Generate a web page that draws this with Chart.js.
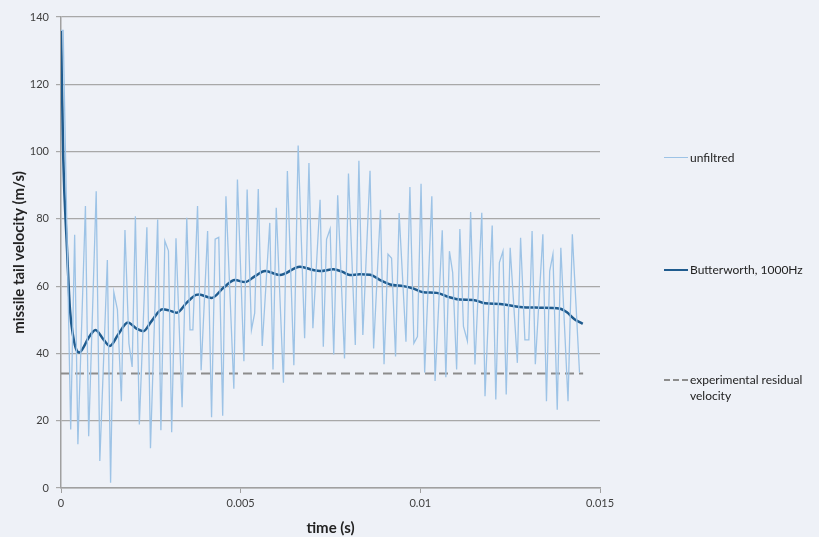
<!DOCTYPE html>
<html>
<head>
<meta charset="utf-8">
<script src="https://cdn.jsdelivr.net/npm/chart.js@4/dist/chart.umd.min.js"></script>
<style>
  body { margin: 0; background: #eef1f7; font-family: Lato, "Open Sans", sans-serif; }
  #wrap { position: relative; width: 819px; height: 537px; }
  .leg { position: absolute; left: 664px; font-size: 12px; color: #222; line-height: 16px; }
  .leg .sw { position: absolute; left: 0; width: 24px; }
  .leg span.t { position: absolute; left: 26px; white-space: nowrap; }
</style>
</head>
<body>
<div id="wrap">
  <canvas id="velChart"></canvas>
  <div class="leg" style="top:150px">
    <div class="sw" style="top:7px;border-top:1.5px solid #9dc3e6"></div>
    <span class="t">unfiltred</span>
  </div>
  <div class="leg" style="top:262px">
    <div class="sw" style="top:7px;border-top:2.5px solid #1f5b8e"></div>
    <span class="t">Butterworth, 1000Hz</span>
  </div>
  <div class="leg" style="top:372px">
    <div class="sw" style="top:7px;border-top:2px dashed #8c8c8c"></div>
    <span class="t">experimental residual<br>velocity</span>
  </div>
</div>
<script>
// unfiltered signal (time in s, velocity in m/s)
var unfiltTime = [0, 0.00006, 0.00027, 0.00038, 0.00047, 0.00068, 0.00077, 0.00098, 0.00108, 0.00129,
  0.00138, 0.00147, 0.00157, 0.00168, 0.00178, 0.00189, 0.00198, 0.00207, 0.00218, 0.00239,
  0.00249, 0.00269, 0.00278, 0.00289, 0.00299, 0.00308, 0.0032, 0.00337, 0.0035, 0.00359,
  0.00367, 0.0038, 0.0039, 0.00408, 0.00419, 0.00429, 0.00439, 0.0045, 0.00459, 0.00481,
  0.00491, 0.00509, 0.00518, 0.0053, 0.00539, 0.00549, 0.0056, 0.00581, 0.0059, 0.00599,
  0.00619, 0.0063, 0.00648, 0.0066, 0.00678, 0.0069, 0.00701, 0.00721, 0.0073, 0.00739,
  0.00749, 0.00759, 0.0077, 0.00789, 0.008, 0.00819, 0.00829, 0.0084, 0.0086, 0.0087,
  0.00889, 0.00899, 0.0091, 0.0092, 0.00931, 0.00941, 0.0096, 0.00971, 0.00982, 0.00992,
  0.01002, 0.01012, 0.01032, 0.01041, 0.01061, 0.01071, 0.01081, 0.0109, 0.01101, 0.0111,
  0.0112, 0.01131, 0.0114, 0.01152, 0.01171, 0.0118, 0.012, 0.0121, 0.0122, 0.0123,
  0.01239, 0.0125, 0.0127, 0.01279, 0.01291, 0.01302, 0.01311, 0.0132, 0.01341, 0.01351,
  0.0136, 0.01369, 0.01381, 0.01391, 0.01411, 0.01423, 0.01443];
var unfiltVel = [136, 136, 17.4, 75.3, 13, 83.8, 15.4, 88.2, 8, 67.8,
  1.6, 58.2, 53, 25.8, 76.7, 43, 36, 80.8, 18.9, 77.5,
  11.8, 79.8, 17.2, 73.4, 70.5, 16.6, 74.2, 24, 80.3, 47,
  47, 83.8, 35, 76.4, 21, 74, 74.5, 21.5, 86.7, 29.5,
  91.7, 37.7, 88.7, 47, 52, 88.9, 42.2, 78.8, 35.2, 83.3,
  31.3, 94.2, 36.5, 101.8, 44.5, 96.6, 47.5, 85.7, 42, 73.9,
  77, 39.7, 87, 38.5, 93.5, 42.5, 97.3, 45.5, 94.3, 41.5,
  82.7, 36.8, 69.5, 68.3, 39.1, 81.7, 43.5, 89.5, 43, 45,
  90.4, 34.3, 86.7, 31.8, 76.6, 32.9, 70.4, 64, 35.2, 77,
  48, 43.7, 82, 36.7, 81.8, 27.3, 78, 26.3, 67, 70.4,
  27.8, 71.4, 37.2, 74.4, 44, 44, 76.4, 36.8, 75.4, 25.8,
  64.5, 69.5, 23.3, 71.4, 25.8, 75.4, 34.3];

// Butterworth 1000Hz filtered signal
var bwTime = [0, 0.000064, 0.000159, 0.00025, 0.00034, 0.00043, 0.00051, 0.00061, 0.00076, 0.00096,
  0.00118, 0.00136, 0.00159, 0.00186, 0.00211, 0.00229, 0.00252, 0.00282, 0.003, 0.00322,
  0.0035, 0.00376, 0.00384, 0.00419, 0.00452, 0.00484, 0.00512, 0.0054, 0.00568, 0.00609,
  0.00665, 0.00702, 0.00721, 0.00758, 0.00782, 0.00804, 0.00832, 0.0086, 0.00888, 0.00916,
  0.00953, 0.0098, 0.01008, 0.01046, 0.01078, 0.0111, 0.01147, 0.0118, 0.01222, 0.01277,
  0.01333, 0.01389, 0.01407, 0.0143, 0.01452];
var bwVel = [136, 97.6, 73, 53, 45, 41, 40.3, 41.5, 44.5, 47,
  44.2, 42.2, 45.6, 49.2, 47.3, 46.6, 49.6, 53.1, 52.8, 52.1,
  55.1, 57.4, 57.5, 56.5, 59.5, 61.8, 61.2, 63, 64.5, 63.3,
  65.8, 64.8, 64.5, 65, 64.3, 63.3, 63.5, 63.4, 61.8, 60.5,
  60, 59.3, 58.2, 58, 56.8, 56, 55.9, 54.9, 54.7, 53.8,
  53.6, 53.3, 52.3, 50.1, 48.8];

// experimental residual velocity
var residualTime = [0, 0.01453];
var residualVel = [34, 34];

var xTicks = [0, 0.005, 0.01, 0.015];
var yTicks = [0, 20, 40, 60, 80, 100, 120, 140];

function pts(xs, ys) {
  return xs.map(function (x, i) { return { x: x, y: ys[i] }; });
}

document.addEventListener('DOMContentLoaded', function () {
  var ctx = document.getElementById('velChart').getContext('2d');
  Chart.defaults.font.family = 'Lato, "Open Sans", sans-serif';

  new Chart(ctx, {
    type: 'line',
    data: {
      datasets: [
        {
          label: 'unfiltred',
          data: pts(unfiltTime, unfiltVel),
          borderColor: '#9dc3e6',
          borderWidth: 1.3,
          pointRadius: 0,
          tension: 0
        },
        {
          label: 'Butterworth, 1000Hz',
          data: pts(bwTime, bwVel),
          borderColor: '#1f5b8e',
          borderWidth: 2.5,
          pointRadius: 0,
          cubicInterpolationMode: 'monotone'
        },
        {
          label: 'experimental residual velocity',
          data: pts(residualTime, residualVel),
          borderColor: '#8c8c8c',
          borderWidth: 2,
          borderDash: [9, 5],
          pointRadius: 0
        }
      ]
    },
    options: {
      responsive: true,
      maintainAspectRatio: false,
      animation: false,
      layout: { padding: { left: 0, right: 219, top: 17, bottom: 0 } },
      plugins: { legend: { display: false }, tooltip: { enabled: false } },
      scales: {
        x: {
          type: 'linear',
          min: 0,
          max: 0.015,
          afterBuildTicks: function (s) { s.ticks = xTicks.map(function (v) { return { value: v }; }); },
          afterFit: function (s) { s.height = 49; },
          ticks: {
            color: '#404040',
            font: { size: 11 },
            padding: 4,
            maxRotation: 0,
            callback: function (v) { return String(+v.toFixed(3)); }
          },
          grid: { drawOnChartArea: false, drawTicks: true, tickLength: 5, color: '#a0a0a0' },
          border: { color: '#a0a0a0', width: 1.5 },
          title: {
            display: true,
            text: 'time (s)',
            color: '#222',
            font: { size: 15, weight: 'bold' },
            padding: { top: 0, bottom: 0 }
          }
        },
        y: {
          min: 0,
          max: 140,
          afterBuildTicks: function (s) { s.ticks = yTicks.map(function (v) { return { value: v }; }); },
          afterFit: function (s) { s.width = 61; },
          ticks: { color: '#404040', font: { size: 11 }, padding: 7 },
          grid: { color: '#a8a8a8', lineWidth: 1.2, tickLength: 5 },
          border: { color: '#a0a0a0', width: 1.5 },
          title: {
            display: true,
            text: 'missile tail velocity (m/s)',
            color: '#222',
            font: { size: 15, weight: 'bold' },
            padding: { top: 10, bottom: 2 }
          }
        }
      }
    }
  });
});
</script>
</body>
</html>
